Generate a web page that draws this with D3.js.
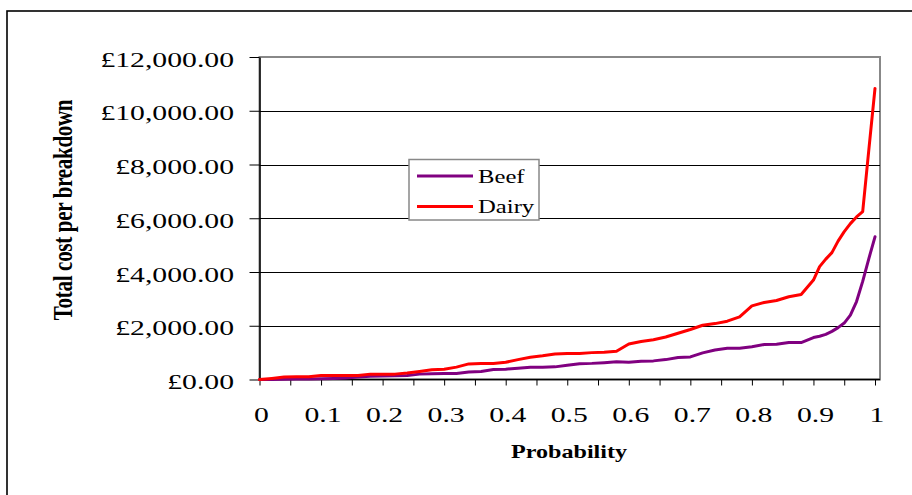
<!DOCTYPE html>
<html>
<head>
<meta charset="utf-8">
<script src="https://cdn.jsdelivr.net/npm/d3@7/dist/d3.min.js"></script>
<style>
  html, body { margin: 0; padding: 0; background: #fff; }
  svg { display: block; }
  text { font-family: "Liberation Serif", "Times New Roman", serif; fill: #000; }
</style>
</head>
<body>
<svg id="chart" width="912" height="495"></svg>
<script>
// ---- data ----
const probability = [0, 0.02, 0.04, 0.06, 0.08, 0.10, 0.12, 0.14, 0.16, 0.18, 0.20, 0.22, 0.24, 0.26, 0.28, 0.30,
  0.32, 0.34, 0.36, 0.38, 0.40, 0.42, 0.44, 0.46, 0.48, 0.50, 0.52, 0.54, 0.56, 0.58, 0.60, 0.62, 0.64, 0.66,
  0.68, 0.70, 0.72, 0.74, 0.76, 0.78, 0.80, 0.82, 0.84, 0.86, 0.88, 0.90, 0.91, 0.92, 0.93, 0.94, 0.95, 0.96,
  0.97, 0.98, 0.99, 1.00];
const beef = [0, 0, 10, 15, 20, 25, 40, 60, 90, 125, 130, 140, 150, 200, 210, 220,
  223, 283, 300, 370, 384, 420, 458, 458, 470, 530, 590, 600, 625, 660, 640, 680, 693, 740,
  820, 840, 990, 1100, 1165, 1165, 1220, 1300, 1314, 1376, 1376, 1560, 1610, 1680, 1790, 1930, 2100, 2394,
  2900, 3650, 4500, 5310];
const dairy = [0, 40, 90, 100, 100, 150, 150, 150, 150, 200, 200, 200, 240, 300, 360, 384,
  460, 580, 595, 595, 640, 740, 830, 880, 950, 968, 968, 1000, 1010, 1050, 1320, 1414, 1480, 1580,
  1720, 1860, 2020, 2080, 2170, 2330, 2740, 2867, 2940, 3080, 3160, 3700, 4200, 4480, 4720, 5150, 5500, 5800,
  6050, 6250, 8550, 10830];
const seriesNames = ["Beef", "Dairy"];
const seriesColors = ["#800080", "#FF0000"];
const yTicks = [0, 2000, 4000, 6000, 8000, 10000, 12000];
const xTicks = [0, 0.05, 0.1, 0.15, 0.2, 0.25, 0.3, 0.35, 0.4, 0.45, 0.5, 0.55, 0.6, 0.65, 0.7, 0.75, 0.8, 0.85, 0.9, 0.95, 1];
const xLabelValues = [0, 0.1, 0.2, 0.3, 0.4, 0.5, 0.6, 0.7, 0.8, 0.9, 1];
const xLabels = ["0", "0.1", "0.2", "0.3", "0.4", "0.5", "0.6", "0.7", "0.8", "0.9", "1"];
const yTitle = "Total cost per breakdown";
const xTitle = "Probability";

// ---- layout ----
const svg = d3.select("#chart");
const plot = { left: 259.5, right: 880, top: 57, bottom: 379.5 };
const x = d3.scaleLinear().domain([0, 1]).range([plot.left, 875]);
const y = d3.scaleLinear().domain([0, 12000]).range([plot.bottom, plot.top]);
const SX = 1.35; // horizontal stretch of the reference's text

svg.append("rect").attr("width", 912).attr("height", 495).attr("fill", "#fff");
// outer chart frame (continues beyond the picture on right/bottom)
svg.append("rect").attr("x", 7).attr("y", 11).attr("width", 940).attr("height", 520)
  .attr("fill", "none").attr("stroke", "#000").attr("stroke-width", 1.6);

// plot area border (gray)
svg.append("rect").attr("x", plot.left).attr("y", plot.top)
  .attr("width", plot.right - plot.left).attr("height", plot.bottom - plot.top)
  .attr("fill", "#fff").attr("stroke", "#888").attr("stroke-width", 2);

// gridlines
svg.append("g").selectAll("line").data(yTicks.filter(v => v > 0 && v < 12000)).join("line")
  .attr("x1", plot.left).attr("x2", plot.right)
  .attr("y1", d => Math.round(y(d)) + 0.5).attr("y2", d => Math.round(y(d)) + 0.5)
  .attr("stroke", "#000").attr("stroke-width", 1);

// y axis
const yAxis = svg.append("g").attr("transform", `translate(${plot.left},0)`)
  .call(d3.axisLeft(y).tickValues(yTicks).tickSize(10).tickSizeOuter(0).tickFormat(""));
yAxis.select(".domain").attr("stroke", "#000").attr("stroke-width", 1.5);
yAxis.selectAll(".tick line").attr("stroke", "#000").attr("stroke-width", 1);

// x axis
const xAxis = svg.append("g").attr("transform", `translate(0,${plot.bottom})`)
  .call(d3.axisBottom(x).tickValues(xTicks).tickSize(6).tickSizeOuter(0).tickFormat(""));
xAxis.select(".domain").attr("stroke", "#000").attr("stroke-width", 1.5)
  .attr("d", `M${plot.left},0H${plot.right}`);
xAxis.selectAll(".tick line").attr("stroke", "#000").attr("stroke-width", 1);

// y tick labels
const fmt = v => "£" + d3.format(",.2f")(v);
svg.append("g").selectAll("text").data(yTicks).join("text")
  .attr("transform", d => `translate(234,${y(d) + 9.5}) scale(${SX},1)`)
  .attr("text-anchor", "end").attr("font-size", 22).text(fmt);

// x tick labels
svg.append("g").selectAll("text").data(xLabelValues).join("text")
  .attr("transform", d => `translate(${x(d) + 2},421.5) scale(${SX},1)`)
  .attr("text-anchor", "middle").attr("font-size", 22).text((d, i) => xLabels[i]);

// axis titles
svg.append("text").attr("transform", `translate(569,458) scale(1.27,1)`)
  .attr("text-anchor", "middle").attr("font-size", 19).attr("font-weight", "bold").text(xTitle);
svg.append("text").attr("transform", `translate(72,210) scale(1.25,1) rotate(-90)`)
  .attr("text-anchor", "middle").attr("font-size", 21).attr("font-weight", "bold")
  .attr("letter-spacing", -0.3).text(yTitle);

// lines
const line = d3.line().x((d, i) => x(probability[i])).y(d => y(d));
[beef, dairy].forEach((vals, k) => {
  svg.append("path").datum(vals).attr("d", line)
    .attr("fill", "none").attr("stroke", seriesColors[k]).attr("stroke-width", 3)
    .attr("stroke-linejoin", "round").attr("stroke-linecap", "round");
});

// legend
const lg = svg.append("g");
lg.append("rect").attr("x", 409).attr("y", 159.5).attr("width", 130).attr("height", 60.5)
  .attr("fill", "#fff").attr("stroke", "#888").attr("stroke-width", 1.5);
seriesNames.forEach((name, k) => {
  const ly = 176 + k * 30.5;
  lg.append("line").attr("x1", 417).attr("x2", 473).attr("y1", ly).attr("y2", ly)
    .attr("stroke", seriesColors[k]).attr("stroke-width", 3);
  lg.append("text").attr("transform", `translate(478,${ly + 6.5}) scale(1.3,1)`)
    .attr("font-size", 19).text(name);
});
</script>
</body>
</html>
